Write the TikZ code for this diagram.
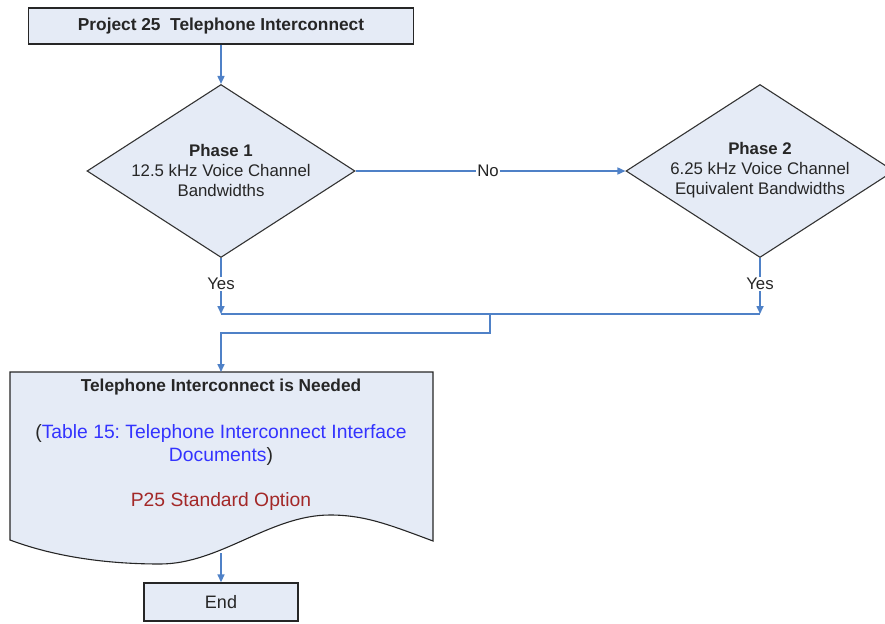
\documentclass[tikz,border=0pt]{standalone}
\usepackage{fontspec}
\setmainfont{Liberation Sans}
\usetikzlibrary{arrows.meta,shapes.geometric}
\definecolor{fillc}{RGB}{229,235,246}
\definecolor{linec}{RGB}{79,129,199}
\definecolor{txtc}{RGB}{38,38,38}
\definecolor{bluet}{RGB}{51,51,255}
\definecolor{redt}{RGB}{163,40,40}
\frenchspacing
\begin{document}
\begin{tikzpicture}[x=1pt,y=-1pt,
  every node/.style={font=\fontsize{16.8}{20}\selectfont, text=txtc, align=center},
  bigtxt/.style={font=\fontsize{19.3}{23}\selectfont},
  boxstyle/.style={draw=black!85, fill=fillc, line width=1.4pt, inner sep=0pt},
  diam/.style={draw=black!80, fill=fillc, line width=1.1pt, shape=diamond, inner sep=0pt, minimum width=268, minimum height=173},
  conn/.style={draw=linec, line width=1.6pt},
  arr/.style={conn, -{Triangle[width=7pt,length=8pt]}},
  lbl/.style={fill=white, inner sep=1pt}]
\useasboundingbox (0,0) rectangle (885,623);
% top box
\node[boxstyle, minimum width=385, minimum height=36, font=\fontsize{17.3}{20}\selectfont] (top) at (221,26) {\bfseries Project 25\ \ Telephone Interconnect};
% diamonds
\node[diam] (d1) at (221,171) {};
\node (d1t) at (221,170) {\bfseries Phase 1\\12.5 kHz Voice Channel\\Bandwidths};
\node[diam] (d2) at (760,171) {};
\node (d2t) at (760,170) {\bfseries Phase 2\\6.25 kHz Voice Channel\\Equivalent Bandwidths};
% document shape
\coordinate (doctop) at (221,372);
\coordinate (docbot) at (221,553);
\draw[draw=black!85, fill=fillc, line width=1.1pt]
  (10,372) -- (433,372) -- (433,541)
  .. controls (390,525) and (365,515) .. (330,515)
  .. controls (270,515) and (220,564) .. (160,564)
  .. controls (100,564) and (50,555) .. (10,540) -- cycle;
\node[font=\fontsize{17.3}{20}\selectfont] (doch) at (221,387) {\bfseries Telephone Interconnect is Needed};
\node[bigtxt] (docb) at (221,445) {(\textcolor{bluet}{Table 15: Telephone Interconnect Interface}\\\textcolor{bluet}{Documents})};
\node[bigtxt, text=redt] (docr) at (221,502) {P25 Standard Option};
% end box
\node[boxstyle, minimum width=154, minimum height=38, font=\fontsize{18}{20}\selectfont] (endb) at (221,602) {End};
% labels
\node[lbl] (no) at (488,171) {No};
\node[inner sep=1pt] (y1) at (221,284) {Yes};
\node[inner sep=1pt] (y2) at (760,284) {Yes};
\coordinate (j1) at (221,314);
\coordinate (j2) at (760,314);
\coordinate (jm) at (490,314);
\coordinate (jb) at (490,333);
\coordinate (jl) at (221,333);
% connectors
\draw[arr] (top.south) -- (d1.north);
\draw[conn] (d1.east) -- (no.west);
\draw[arr] (no.east) -- (d2.west);
\draw[conn] (d1.south) -- (y1.north);
\draw[arr] (y1.south) -- (j1);
\draw[conn] (d2.south) -- (y2.north);
\draw[arr] (y2.south) -- (j2);
\draw[conn] (j1) -- (j2);
\draw[arr] (jm) -- (jb) -- (jl) -- (doctop);
\draw[arr] (docbot) -- (endb.north);
\end{tikzpicture}
\end{document}
